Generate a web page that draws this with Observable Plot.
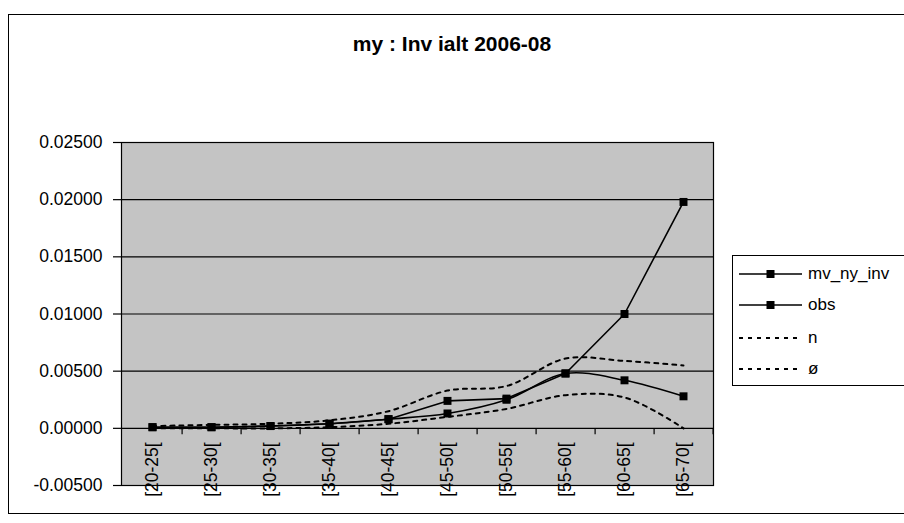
<!DOCTYPE html>
<html>
<head>
<meta charset="utf-8">
<script src="https://cdn.jsdelivr.net/npm/d3@7"></script>
<script src="https://cdn.jsdelivr.net/npm/@observablehq/plot@0.6"></script>
<style>
  body { margin: 0; background: #fff; }
  #chart { position: relative; width: 904px; height: 523px; overflow: hidden;
           font-family: Arial, "Liberation Sans", sans-serif; color: #000; }
  #border { position: absolute; left: 8px; top: 14px; width: 900px; height: 498px; border: 1px solid #000; }
  #title { position: absolute; left: 0; top: 32px; width: 904px; text-align: center;
           font-weight: bold; font-size: 21px; }
  #plot { position: absolute; left: 0; top: 0; }
  #legend { position: absolute; left: 732px; top: 255px; width: 190px; height: 129px;
            border: 1px solid #000; background: #fff; }
  .item { position: absolute; left: 6px; height: 24px; display: flex; align-items: center; font-size: 17px; }
  .item svg { margin-right: 6px; }
</style>
</head>
<body>
<div id="chart">
  <div id="border"></div>
  <div id="title">my : Inv ialt 2006-08</div>
  <div id="plot"></div>
  <div id="legend"></div>
</div>
<script>
// ---- data ----
const categories = ["[20-25[", "[25-30[", "[30-35[", "[35-40[", "[40-45[", "[45-50[", "[50-55[", "[55-60[", "[60-65[", "[65-70["];
const seriesNames = ["mv_ny_inv", "obs", "n", "ø"];
const mvNyInv = [0.0001, 0.0001, 0.0002, 0.0004, 0.0008, 0.0013, 0.0025, 0.0048, 0.0042, 0.0028];
const obs     = [0.0001, 0.0001, 0.0002, 0.0004, 0.0008, 0.0024, 0.0026, 0.0048, 0.0100, 0.0198];
const nVals   = [0.0000, 0.0000, 0.0000, 0.0001, 0.0004, 0.0010, 0.0017, 0.0029, 0.0027, 0.0000];
const oeVals  = [0.0002, 0.0003, 0.0004, 0.0007, 0.0015, 0.0033, 0.0037, 0.0061, 0.0059, 0.0055];
const yTicks  = [-0.005, 0, 0.005, 0.01, 0.015, 0.02, 0.025];

const rows = (vals) => categories.map((c, i) => ({cat: c, v: vals[i]}));

const W = 904, H = 523, ML = 121, MR = 191, MT = 142, MB = 38;
const halfStep = (W - ML - MR) / categories.length / 2;

const font = "Arial, 'Liberation Sans', sans-serif";

// small downward tick drawn as a custom symbol
const tickDown = {draw(context) { context.moveTo(0, 0); context.lineTo(0, 6); }};

const chart = Plot.plot({
  width: W, height: H,
  marginLeft: ML, marginRight: MR, marginTop: MT, marginBottom: MB,
  style: {fontFamily: font, fontSize: "17px", background: "transparent", color: "#000"},
  x: {type: "point", domain: categories, padding: 0.5, axis: null},
  y: {domain: [-0.005, 0.025], axis: null},
  marks: [
    Plot.frame({fill: "#c4c4c4", stroke: null}),
    Plot.ruleY(yTicks, {stroke: "#000", strokeWidth: 1.2}),
    Plot.frame({stroke: "#000", strokeWidth: 1.2}),
    Plot.axisY({ticks: yTicks, tickFormat: d => d.toFixed(5), tickSize: 8, tickPadding: 11, label: null,
                fontSize: 17.5, stroke: "#000", fill: "#000", strokeWidth: 1.2}),
    Plot.dot(categories, {x: d => d, y: 0, symbol: tickDown, dx: halfStep, stroke: "#000", strokeWidth: 1.2, fill: "none"}),
    Plot.text(categories, {x: d => d, y: 0, text: d => d, rotate: -90, textAnchor: "end",
                           lineAnchor: "middle", dy: 14, fontSize: 17.5, fill: "#000"}),
    Plot.line(rows(nVals),  {x: "cat", y: "v", curve: "catmull-rom", stroke: "#000", strokeWidth: 2, strokeDasharray: "4,5"}),
    Plot.line(rows(oeVals), {x: "cat", y: "v", curve: "catmull-rom", stroke: "#000", strokeWidth: 2, strokeDasharray: "4,5"}),
    Plot.line(rows(mvNyInv), {x: "cat", y: "v", curve: "catmull-rom", stroke: "#000", strokeWidth: 1.6}),
    Plot.line(rows(obs), {x: "cat", y: "v", stroke: "#000", strokeWidth: 1.6}),
    Plot.dot(rows(mvNyInv), {x: "cat", y: "v", symbol: "square", r: 4.5, fill: "#000"}),
    Plot.dot(rows(obs), {x: "cat", y: "v", symbol: "square", r: 4.5, fill: "#000"})
  ]
});
document.getElementById("plot").appendChild(chart);

// ---- legend ----
const legend = document.getElementById("legend");
const itemTops = [6, 37, 70, 101];
seriesNames.forEach((name, i) => {
  const div = document.createElement("div");
  div.className = "item";
  div.style.top = itemTops[i] + "px";
  const solid = i < 2;
  div.innerHTML =
    `<svg width="63" height="12"><line x1="0" y1="6" x2="63" y2="6" stroke="#000" stroke-width="${solid ? 1.6 : 2}" ${solid ? "" : 'stroke-dasharray="4,5"'}/>` +
    (solid ? `<rect x="27.5" y="2" width="8" height="8" fill="#000"/>` : ``) +
    `</svg><span>${name}</span>`;
  legend.appendChild(div);
});
</script>
</body>
</html>
